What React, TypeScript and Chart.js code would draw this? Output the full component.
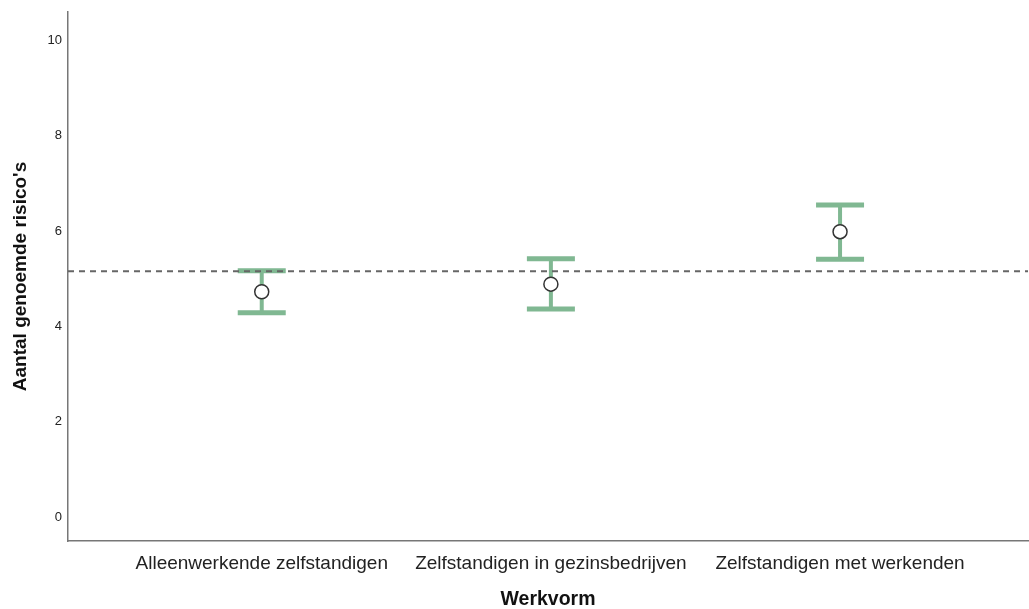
import React, { useEffect, useRef } from "react";
import { Chart, registerables } from "chart.js";

Chart.register(...registerables);

const categories = [
  "Alleenwerkende zelfstandigen",
  "Zelfstandigen in gezinsbedrijven",
  "Zelfstandigen met werkenden",
];
const means = [4.73, 4.89, 5.99];
const upper = [5.17, 5.42, 6.55];
const lower = [4.29, 4.37, 5.41];
const referenceValue = 5.16;
const yTicks = [0, 2, 4, 6, 8, 10];

const GREEN = "#80b892";
const FONT = "'Liberation Sans', Arial, sans-serif";

const errorBarPlugin = {
  id: "errorBars",
  beforeDatasetsDraw(chart: any) {
    const { ctx, scales } = chart;
    const xs = scales.x;
    const ys = scales.y;
    ctx.save();
    ctx.strokeStyle = GREEN;
    ctx.lineCap = "butt";
    categories.forEach((_, i) => {
      const x = xs.getPixelForValue(i);
      const yt = ys.getPixelForValue(upper[i]);
      const yb = ys.getPixelForValue(lower[i]);
      ctx.lineWidth = 4;
      ctx.beginPath();
      ctx.moveTo(x, yt);
      ctx.lineTo(x, yb);
      ctx.stroke();
      ctx.lineWidth = 5;
      ctx.beginPath();
      ctx.moveTo(x - 24, yt);
      ctx.lineTo(x + 24, yt);
      ctx.moveTo(x - 24, yb);
      ctx.lineTo(x + 24, yb);
      ctx.stroke();
    });
    ctx.restore();
  },
};

export default function App() {
  const ref = useRef<HTMLCanvasElement>(null);
  useEffect(() => {
    if (!ref.current) return;
    const xMin = -0.67;
    const xMax = 2.65;
    const chart = new Chart(ref.current, {
      type: "scatter",
      data: {
        datasets: [
          {
            type: "line",
            data: [
              { x: xMin, y: referenceValue },
              { x: xMax, y: referenceValue },
            ],
            borderColor: "#666666",
            borderWidth: 2,
            borderDash: [6, 5],
            pointRadius: 0,
            fill: false,
          } as any,
          {
            data: means.map((m, i) => ({ x: i, y: m })),
            pointRadius: 7,
            pointBackgroundColor: "#ffffff",
            pointBorderColor: "#333333",
            pointBorderWidth: 1.5,
          },
        ],
      },
      options: {
        responsive: false,
        animation: false,
        layout: { autoPadding: false, padding: { top: 12, right: 1, left: 0, bottom: 0 } },
        plugins: {
          legend: { display: false },
          tooltip: { enabled: false },
        },
        scales: {
          x: {
            type: "linear",
            min: xMin,
            max: xMax,
            grid: { display: false, drawTicks: false },
            border: { color: "#777777", width: 1.5 },
            afterBuildTicks: (scale: any) => {
              scale.ticks = categories.map((_, i) => ({ value: i }));
            },
            afterFit: (scale: any) => {
              scale.height = 68;
              scale.paddingLeft = 0;
              scale.paddingRight = 0;
            },
            ticks: {
              padding: 11,
              autoSkip: false,
              maxRotation: 0,
              color: "#222222",
              font: { family: FONT, size: 19 },
              callback: (v: any) => categories[v as number] ?? "",
            },
            title: {
              display: true,
              text: "Werkvorm",
              color: "#111111",
              padding: { top: 0, bottom: 0 },
              font: { family: FONT, size: 19.5, weight: "bold", lineHeight: 1 },
            },
          },
          y: {
            type: "linear",
            min: -0.5,
            max: 10.6,
            grid: { display: false, drawTicks: false },
            border: { color: "#777777", width: 1.5 },
            afterBuildTicks: (scale: any) => {
              scale.ticks = yTicks.map((v) => ({ value: v }));
            },
            afterFit: (scale: any) => {
              scale.width = 68;
              scale.paddingTop = 0;
              scale.paddingBottom = 0;
            },
            ticks: {
              padding: 6,
              color: "#222222",
              font: { family: FONT, size: 13 },
            },
            title: {
              display: true,
              text: "Aantal genoemde risico's",
              color: "#111111",
              padding: { top: 11, bottom: 0 },
              font: { family: FONT, size: 19, weight: "bold", lineHeight: 1 },
            },
          },
        },
      },
      plugins: [errorBarPlugin],
    });
    return () => chart.destroy();
  }, []);
  return (
    <canvas
      ref={ref}
      width={1029}
      height={609}
      style={{ position: "fixed", left: 0, top: 0, background: "#ffffff" }}
    />
  );
}
